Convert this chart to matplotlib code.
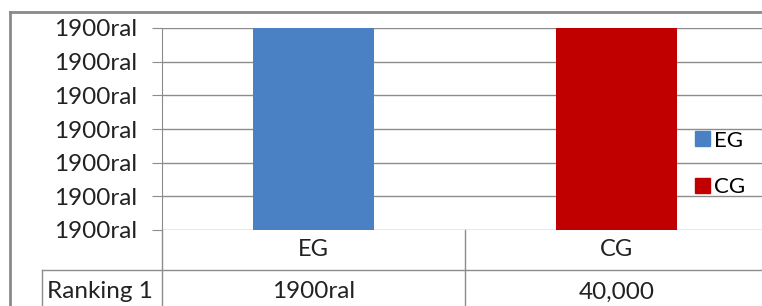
import matplotlib.pyplot as plt
from matplotlib.lines import Line2D
from matplotlib.patches import Patch

plt.rcParams['font.family'] = ['Lato', 'DejaVu Sans']

# data
groups = ["EG", "CG"]
values = [40000, 40000]
table_row = "Ranking 1"
table_vals = ["1900ral", "40,000"]
yticks = [10000, 15000, 20000, 25000, 30000, 35000, 40000]
ytick_labels = ["1900ral"] * len(yticks)
colors = ["#4a80c4", "#c00000"]

W, H = 762, 306
fig = plt.figure(figsize=(W / 100, H / 100), dpi=100)

def fx(px):
    return px / W

def fy(py):
    return 1 - py / H

# plot area: x 162..768 px, y 28..230 px
ax = fig.add_axes([fx(162), fy(230), fx(768) - fx(162), fy(28) - fy(230)])
x = list(range(len(groups)))
ax.bar(x, [v - yticks[0] for v in values], bottom=yticks[0], width=0.40,
       color=colors, zorder=3)
ax.set_xlim(-0.5, len(groups) - 0.5)
ax.set_ylim(yticks[0], yticks[-1])
ax.set_yticks(yticks)
ax.set_yticklabels(ytick_labels)
ax.yaxis.grid(True, color="#8c8c8c", lw=1)
ax.set_xticks([])
for s in ["top", "right", "bottom"]:
    ax.spines[s].set_visible(False)
ax.spines["left"].set_color("#8c8c8c")
ax.tick_params(axis="y", length=7.2, color="#8c8c8c", pad=11,
               labelsize=17.5, labelcolor="#222222")

# data table under the plot
gray = "#8c8c8c"
tr = ax.get_xaxis_transform()
row1 = -40 / 202
bottom = -80 / 202
ax.plot([-0.5, -0.5], [0, bottom], transform=tr, color=gray, lw=1, clip_on=False)
ax.plot([0.5, 0.5], [0, bottom], transform=tr, color=gray, lw=1, clip_on=False)
ax.plot([-0.5 - 120 / 303, 1.6], [row1, row1], transform=tr, color=gray, lw=1, clip_on=False)
ax.plot([-0.5 - 120 / 303] * 2, [row1, bottom], transform=tr, color=gray, lw=1, clip_on=False)
for i, g in enumerate(groups):
    ax.text(i, -20 / 202, g, transform=tr, ha="center", va="center",
            fontsize=17, color="#222222")
    ax.text(i, -62 / 202, table_vals[i], transform=tr, ha="center", va="center",
            fontsize=17.5, color="#222222")
fig.text(fx(47), fy(292), table_row, ha="left", va="center", fontsize=17.5, color="#222222")

# legend
handles = [Patch(color=c, label=g) for c, g in zip(colors, groups)]
fig.legend(handles=handles, loc="center left", bbox_to_anchor=(fx(684), fy(164)),
           frameon=False, fontsize=16, handlelength=0.65, handleheight=0.65,
           handletextpad=0.2, labelspacing=1.2, borderpad=0)

# outer chart border
fig.add_artist(Line2D([fx(10), fx(10)], [fy(12), 0], color="#8a8a8a", lw=2))
fig.add_artist(Line2D([fx(10), 1], [fy(12), fy(12)], color="#8a8a8a", lw=2))

fig.savefig("out.png", dpi=100)
